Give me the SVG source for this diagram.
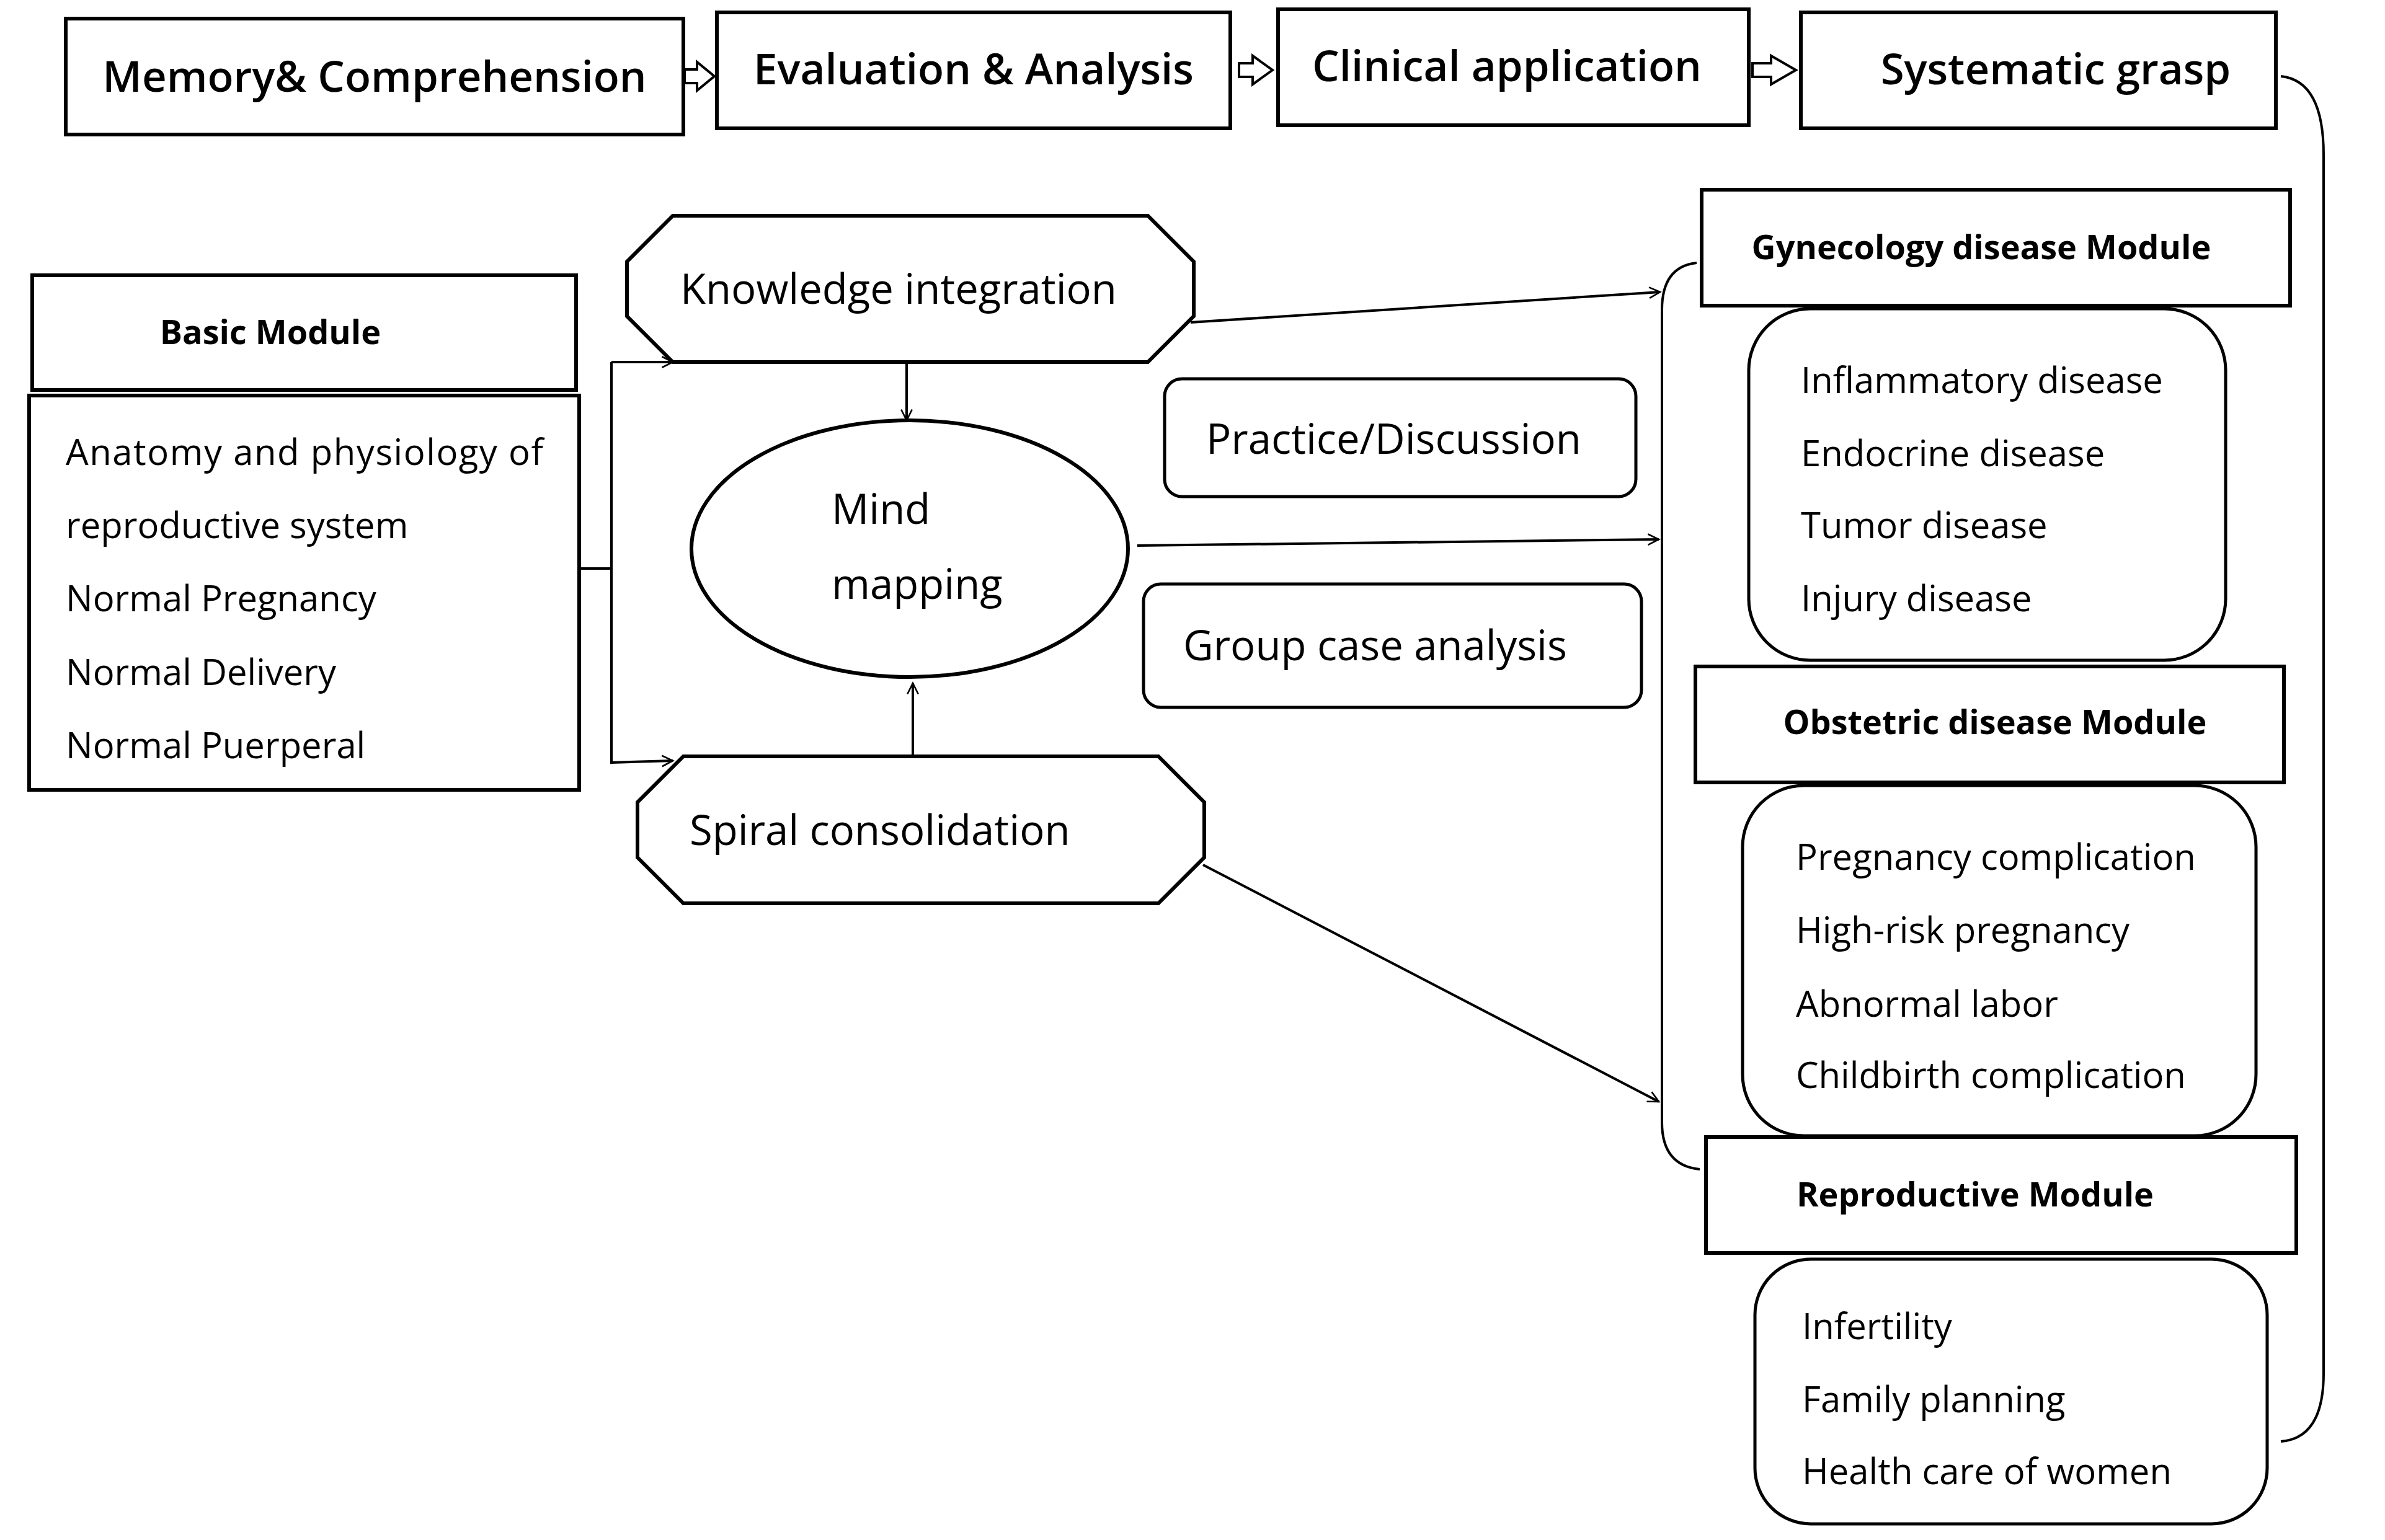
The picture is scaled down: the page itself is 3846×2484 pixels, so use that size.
<svg xmlns="http://www.w3.org/2000/svg" width="3846" height="2484" viewBox="0 0 3846 2484">
<defs>
<style>
.b{fill:#fff;stroke:#000;stroke-width:6}
.r{fill:#fff;stroke:#000;stroke-width:5}
.t{font-family:"Open Sans",sans-serif;font-size:67px;fill:#000}
.l{font-family:"Open Sans",sans-serif;font-size:58px;fill:#000}
.h{font-family:"Open Sans",sans-serif;font-size:69px;font-weight:600;fill:#000}
.m{font-family:"Open Sans",sans-serif;font-size:54px;font-weight:700;fill:#000}
.c{fill:none;stroke:#000;stroke-width:4}
.ha{fill:#fff;stroke:#000;stroke-width:4}
</style>
<marker id="a" viewBox="0 0 10 10" refX="10" refY="5" markerWidth="7" markerHeight="7" orient="auto" markerUnits="userSpaceOnUse" style="overflow:visible"><path d="M0,0 L10,5 L0,10" fill="none" stroke="#000" stroke-width="1.5" transform="scale(2.5) translate(-6,-3)"/></marker>
</defs>
<rect width="3846" height="2484" fill="#fff"/>
<g id="top1"><rect class="b" x="106" y="30" width="996" height="187"/><text class="h" x="604" y="148" text-anchor="middle">Memory&amp; Comprehension</text></g>
<g id="top2"><rect class="b" x="1156" y="20" width="828" height="187"/><text class="h" x="1570" y="136" text-anchor="middle">Evaluation &amp; Analysis</text></g>
<g id="top3"><rect class="b" x="2061" y="15" width="759" height="187"/><text class="h" x="2430" y="131" text-anchor="middle">Clinical application</text></g>
<g id="top4"><rect class="b" x="2904" y="20" width="766" height="187"/><text class="h" x="3315" y="136" text-anchor="middle">Systematic grasp</text></g>
<g id="basic"><rect class="b" x="52" y="444" width="877" height="185"/><text class="m" x="436" y="555" text-anchor="middle">Basic Module</text></g>
<g id="basiclist"><rect class="b" x="47" y="638" width="887" height="636"/>
<text class="l" x="106" y="750" textLength="770" lengthAdjust="spacing">Anatomy and physiology of</text>
<text class="l" x="106" y="868">reproductive system</text>
<text class="l" x="106" y="986">Normal Pregnancy</text>
<text class="l" x="106" y="1105">Normal Delivery</text>
<text class="l" x="106" y="1223">Normal Puerperal</text></g>
<g id="ki"><path class="b" d="M1085,348 H1851 L1925,422 V510 L1851,584 H1085 L1011,510 V422 Z"/><text class="t" x="1097" y="490">Knowledge integration</text></g>
<g id="sc"><path class="b" d="M1102,1220 H1868 L1942,1294 V1383 L1868,1457 H1102 L1028,1383 V1294 Z"/><text class="t" x="1112" y="1363">Spiral consolidation</text></g>
<g id="mind"><ellipse class="b" cx="1467" cy="885" rx="352" ry="207"/><text class="t" x="1341" y="845">Mind</text><text class="t" x="1341" y="966">mapping</text></g>
<g id="practice"><rect class="r" x="1878" y="611" width="760" height="190" rx="28"/><text class="t" x="1945" y="732">Practice/Discussion</text></g>
<g id="group"><rect class="r" x="1844" y="942" width="803" height="199" rx="28"/><text class="t" x="1908" y="1065">Group case analysis</text></g>
<g id="gyn"><rect class="b" x="2744" y="306" width="949" height="187"/><text class="m" x="3195" y="418" text-anchor="middle">Gynecology disease Module</text></g>
<g id="gynlist"><rect class="r" x="2820" y="498" width="769" height="567" rx="99"/>
<text class="l" x="2904" y="634">Inflammatory disease</text>
<text class="l" x="2904" y="752">Endocrine disease</text>
<text class="l" x="2904" y="868">Tumor disease</text>
<text class="l" x="2904" y="986">Injury disease</text></g>
<g id="obs"><rect class="b" x="2734" y="1075" width="949" height="187"/><text class="m" x="3217" y="1184" text-anchor="middle">Obstetric disease Module</text></g>
<g id="obslist"><rect class="r" x="2810" y="1267" width="828" height="565" rx="99"/>
<text class="l" x="2896" y="1403">Pregnancy complication</text>
<text class="l" x="2896" y="1521">High-risk pregnancy</text>
<text class="l" x="2896" y="1640">Abnormal labor</text>
<text class="l" x="2896" y="1755">Childbirth complication</text></g>
<g id="rep"><rect class="b" x="2751" y="1834" width="952" height="187"/><text class="m" x="3185" y="1946" text-anchor="middle">Reproductive Module</text></g>
<g id="replist"><rect class="r" x="2830" y="2031" width="826" height="427" rx="90"/>
<text class="l" x="2906" y="2160">Infertility</text>
<text class="l" x="2906" y="2278">Family planning</text>
<text class="l" x="2906" y="2394">Health care of women</text></g>
<g id="connectors">
<path class="ha" d="M1104,112 H1124 V100 L1152,123 L1124,146 V134 H1104 Z"/>
<path class="ha" d="M1998,102 H2020 V90 L2052,113 L2020,136 V124 H1998 Z"/>
<path class="ha" d="M2826,102 H2856 V90 L2896,113 L2856,136 V124 H2826 Z"/>
<path class="c" d="M934,917 H986"/>
<path class="c" d="M986,584 V1232" stroke-width="7"/>
<path class="c" d="M986,584 H1085" marker-end="url(#a)"/>
<path class="c" d="M986,1230 L1085,1227" marker-end="url(#a)"/>
<path class="c" d="M1462,584 V678" marker-end="url(#a)"/>
<path class="c" d="M1472,1220 V1102" marker-end="url(#a)"/>
<path class="c" d="M1920,520 L2677,471" marker-end="url(#a)"/>
<path class="c" d="M1834,880 L2675,870" marker-end="url(#a)"/>
<path class="c" d="M1940,1395 L2675,1777" marker-end="url(#a)"/>
<path class="c" d="M2736,424 Q2680,430 2680,500 V1810 Q2680,1880 2741,1886"/>
<path class="c" d="M3678,123 Q3747,130 3747,250 V2215 Q3747,2320 3678,2325"/>
</g>
</svg>
